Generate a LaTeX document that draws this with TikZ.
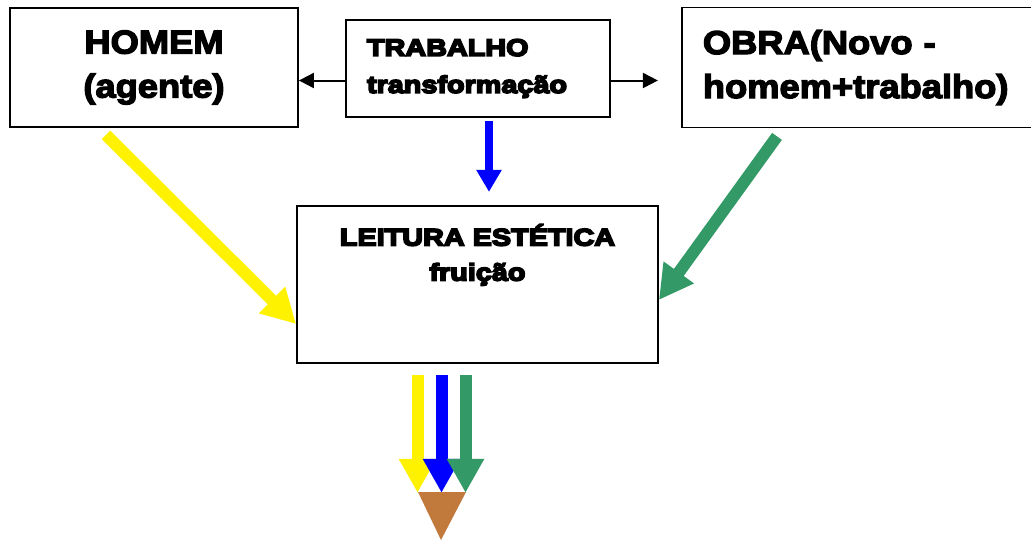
\documentclass[tikz,border=0pt]{standalone}
\usepackage{fontspec}
\setmainfont{Liberation Sans}
\newfontfamily\heavyfont{Liberation Sans Bold}[FakeStretch=1.2,FakeBold=7]
\newfontfamily\plainbold{Liberation Sans Bold}[FakeStretch=1.1,FakeBold=4]
\usetikzlibrary{arrows.meta}
\definecolor{obragreen}{RGB}{51,153,102}
\definecolor{tipbrown}{RGB}{193,122,60}

\begin{document}
\begin{tikzpicture}[x=1pt,y=-1pt,
	box/.style={draw,line width=1.8pt,inner sep=0pt},
	bigtext/.style={font=\plainbold\fontsize{33}{44}\selectfont},
	heavytext/.style={font=\heavyfont\fontsize{24}{37}\selectfont},
	thinarrow/.style={line width=2pt,-{Triangle[length=15pt,width=15pt]}},
	midarrow/.style={line width=8pt,-{Triangle[length=22pt,width=24pt]}},
	fatarrow/.style={line width=12pt,-{Triangle[length=34pt,width=35pt]}}]
	\useasboundingbox (0,0) rectangle (1031,541);
	\node[box,bigtext,minimum width=288pt,minimum height=119pt,align=center] (homem) at (154,67.5) {HOMEM\\(agente)};
	\node[box,heavytext,minimum width=264pt,minimum height=97pt,text width=222pt,align=left] (trabalho) at (478,68.5) {TRABALHO\\transformação};
	\node[box,bigtext,anchor=west,minimum width=360pt,minimum height=120pt,text width=318pt,align=left] (obra) at (681,67.5) {OBRA(Novo -\\homem+trabalho)};
	\node[box,minimum width=361pt,minimum height=157pt] (leitura) at (477.5,284.5) {};
	\node[heavytext,inner sep=0pt,anchor=north,align=center,font=\heavyfont\fontsize{24}{35}\selectfont] (fruicao) at ([yshift=-19pt]leitura.north) {LEITURA ESTÉTICA\\fruição};
	% setas do trabalho
	\draw[thinarrow] ([yshift=-12pt]trabalho.west) -- ([yshift=-12pt]trabalho.west -| homem.east);
	\draw[thinarrow] ([yshift=-12pt]trabalho.east) -- ++(47,0);
	\draw[midarrow,blue] ([xshift=11pt,yshift=-3pt]trabalho.south) -- ++(0,71);
	% setas para a leitura
	\draw[fatarrow,yellow] ([xshift=-48pt,yshift=-7pt]homem.south) -- ([yshift=-39.5pt]leitura.west);
	\draw[fatarrow,obragreen] ([xshift=96pt,yshift=-8pt]obra.south west) -- ([yshift=-15.5pt]leitura.east);
	\foreach \c/\dx in {yellow/-60,blue/-36,obragreen/-12} \draw[fatarrow,\c] ([xshift=\dx pt,yshift=-11pt]leitura.south) -- ++(0,118);
	\fill[tipbrown] (418,492) -- (466,492) -- (441,540) -- cycle;
\end{tikzpicture}
\end{document}
